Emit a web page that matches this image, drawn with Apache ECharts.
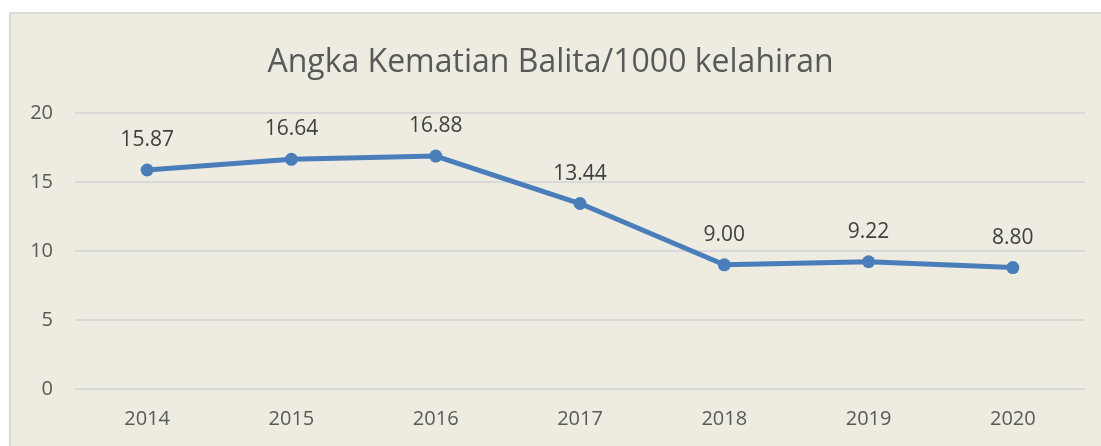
<!DOCTYPE html>
<html>
<head>
<meta charset="utf-8">
<script src="https://cdn.jsdelivr.net/npm/echarts@6/dist/echarts.min.js"></script>
<style>
  html, body { margin: 0; padding: 0; background: #ffffff; }
  #chart { width: 1101px; height: 446px; }
</style>
</head>
<body>
<div id="chart"></div>
<script>
var years = ['2014', '2015', '2016', '2017', '2018', '2019', '2020'];
var rates = [15.87, 16.64, 16.88, 13.44, 9.00, 9.22, 8.80];
var yTicks = [0, 5, 10, 15, 20];

var textColor = '#595959';
var fontFamily = 'Open Sans, Noto Sans, sans-serif';

var myChart = echarts.init(document.getElementById('chart'));

var option = {
    backgroundColor: '#ffffff',
    graphic: [{
        type: 'rect',
        z: -10,
        shape: { x: 10, y: 13, width: 1100, height: 440 },
        style: { fill: '#EEEBE0', stroke: '#D9D9D9', lineWidth: 2 }
    }],
    title: {
        text: 'Angka Kematian Balita/1000 kelahiran',
        left: 'center',
        top: 42,
        textStyle: {
            color: textColor,
            fontSize: 32,
            fontWeight: 'normal',
            fontFamily: fontFamily
        }
    },
    grid: {
        left: 75,
        right: 16,
        top: 113,
        bottom: 57
    },
    xAxis: {
        type: 'category',
        data: years,
        boundaryGap: true,
        axisLine: { show: false },
        axisTick: { show: false },
        axisLabel: {
            color: textColor,
            fontSize: 20,
            fontFamily: fontFamily,
            margin: 20
        }
    },
    yAxis: {
        type: 'value',
        min: yTicks[0],
        max: yTicks[yTicks.length - 1],
        interval: 5,
        axisLine: { show: false },
        axisTick: { show: false },
        axisLabel: {
            color: textColor,
            fontSize: 20,
            fontFamily: fontFamily,
            margin: 22
        },
        splitLine: {
            lineStyle: { color: '#D9D9D9', width: 2 }
        }
    },
    series: [{
        name: 'Angka Kematian Balita',
        type: 'line',
        data: rates,
        symbol: 'circle',
        symbolSize: 13,
        lineStyle: { color: '#4A7EBB', width: 5 },
        itemStyle: { color: '#4A7EBB' },
        label: {
            show: true,
            position: 'top',
            distance: 13,
            color: '#404040',
            fontSize: 21,
            fontFamily: fontFamily,
            formatter: function (p) {
                return p.value.toFixed(2);
            }
        }
    }]
};

myChart.setOption(option);
</script>
</body>
</html>
